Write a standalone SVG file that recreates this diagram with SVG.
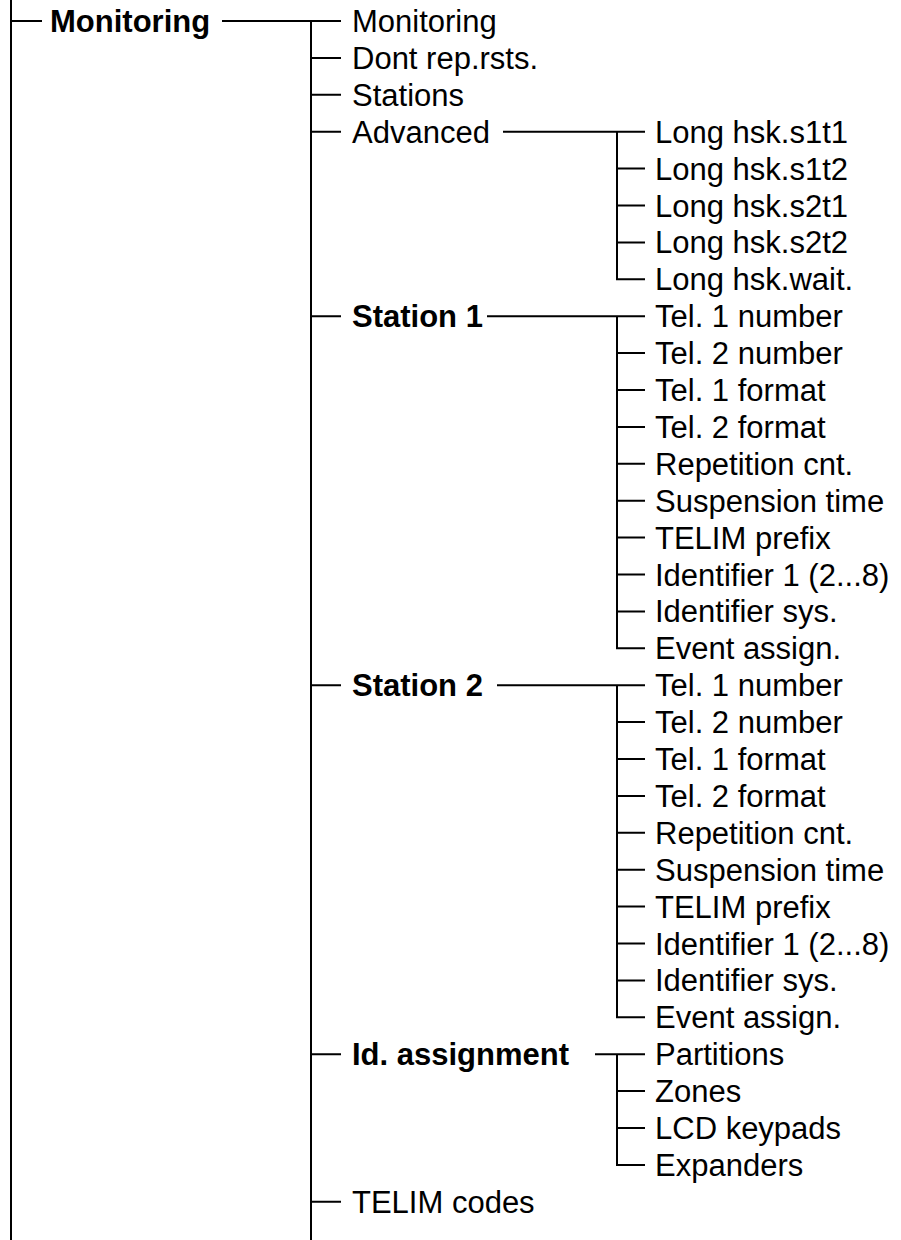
<svg xmlns="http://www.w3.org/2000/svg" width="901" height="1240" viewBox="0 0 901 1240">
<style>
text{font-family:"Liberation Sans",Arial,sans-serif;font-size:31px;fill:#000}
.b{font-weight:bold}
.c{fill:none;stroke:#000;stroke-width:2}
</style>
<rect width="901" height="1240" fill="#fff"/>
<g id="connectors" class="c">
<path d="M11 0V1240M11 21H42"/>
<path d="M222 21H341M311 21V1240"/>
<path d="M311 57.9H341M311 94.8H341M311 131.7H341M311 316.2H341M311 685.2H341M311 1054.2H341M311 1201.8H341"/>
<path d="M503 131.7H645M617 131.7V279.3H645M617 168.6H645M617 205.5H645M617 242.4H645"/>
<path d="M487 316.2H645M617 316.2V648.3H645M617 353.1H645M617 390H645M617 426.9H645M617 463.8H645M617 500.7H645M617 537.6H645M617 574.5H645M617 611.4H645"/>
<path d="M497 685.2H645M617 685.2V1017.3H645M617 722.1H645M617 759H645M617 795.9H645M617 832.8H645M617 869.7H645M617 906.6H645M617 943.5H645M617 980.4H645"/>
<path d="M595 1054.2H645M617 1054.2V1164.9H645M617 1091.1H645M617 1128H645"/>
</g>
<g id="n-root"><text class="b" x="50" y="32">Monitoring</text></g>
<g id="n-l2">
<text x="352" y="32">Monitoring</text>
<text x="352" y="68.9">Dont rep.rsts.</text>
<text x="352" y="105.8">Stations</text>
<text x="352" y="142.7">Advanced</text>
<text class="b" x="352" y="327.2">Station 1</text>
<text class="b" x="352" y="696.2">Station 2</text>
<text class="b" x="352" y="1065.2">Id. assignment</text>
<text x="352" y="1212.8">TELIM codes</text>
</g>
<g id="n-advanced">
<text x="655" y="142.7">Long hsk.s1t1</text>
<text x="655" y="179.6">Long hsk.s1t2</text>
<text x="655" y="216.5">Long hsk.s2t1</text>
<text x="655" y="253.4">Long hsk.s2t2</text>
<text x="655" y="290.3">Long hsk.wait.</text>
</g>
<g id="n-station1">
<text x="655" y="327.2">Tel. 1 number</text>
<text x="655" y="364.1">Tel. 2 number</text>
<text x="655" y="401">Tel. 1 format</text>
<text x="655" y="437.9">Tel. 2 format</text>
<text x="655" y="474.8">Repetition cnt.</text>
<text x="655" y="511.7">Suspension time</text>
<text x="655" y="548.6">TELIM prefix</text>
<text x="655" y="585.5">Identifier 1 (2...8)</text>
<text x="655" y="622.4">Identifier sys.</text>
<text x="655" y="659.3">Event assign.</text>
</g>
<g id="n-station2">
<text x="655" y="696.2">Tel. 1 number</text>
<text x="655" y="733.1">Tel. 2 number</text>
<text x="655" y="770">Tel. 1 format</text>
<text x="655" y="806.9">Tel. 2 format</text>
<text x="655" y="843.8">Repetition cnt.</text>
<text x="655" y="880.7">Suspension time</text>
<text x="655" y="917.6">TELIM prefix</text>
<text x="655" y="954.5">Identifier 1 (2...8)</text>
<text x="655" y="991.4">Identifier sys.</text>
<text x="655" y="1028.3">Event assign.</text>
</g>
<g id="n-idassign">
<text x="655" y="1065.2">Partitions</text>
<text x="655" y="1102.1">Zones</text>
<text x="655" y="1139">LCD keypads</text>
<text x="655" y="1175.9">Expanders</text>
</g>
</svg>
